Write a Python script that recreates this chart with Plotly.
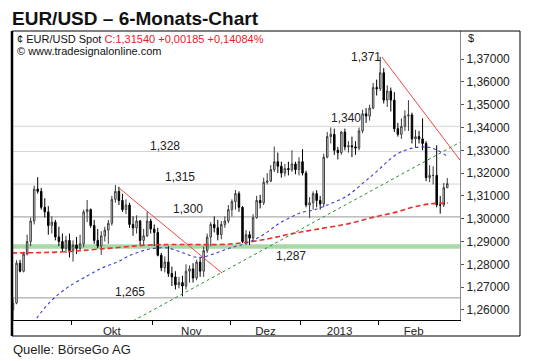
import pandas as pd
import plotly.graph_objects as go

# ---------------- data ----------------
dates = [d.strftime("%Y-%m-%d") for d in pd.bdate_range("2012-09-06", "2013-02-28")
         if d.strftime("%m-%d") not in ("12-25", "01-01")]

opens = [1.2600, 1.2630, 1.2805, 1.2770, 1.2845, 1.2900, 1.2990, 1.3130, 1.3120, 1.3050,
         1.3030, 1.2970, 1.2985, 1.2920, 1.2900, 1.2870, 1.2905,
         1.2860, 1.2885, 1.2870, 1.2890, 1.3030, 1.3040, 1.2970, 1.2905, 1.2880, 1.2925,
         1.2950, 1.2980, 1.3085, 1.3120, 1.3080, 1.3040, 1.3060, 1.2975, 1.2960, 1.2990,
         1.2905, 1.2925, 1.2990,
         1.2955, 1.2940, 1.2840, 1.2785, 1.2810, 1.2760, 1.2745, 1.2710, 1.2720, 1.2705,
         1.2770, 1.2780, 1.2740, 1.2810, 1.2770, 1.2860, 1.2920, 1.2975, 1.2960, 1.2930,
         1.2975, 1.2990,
         1.3040, 1.3075, 1.3110, 1.3050, 1.2900, 1.2930, 1.2915, 1.3005, 1.3080, 1.3070,
         1.3160, 1.3165, 1.3215, 1.3250, 1.3230, 1.3200, 1.3220, 1.3215, 1.3240, 1.3215,
         1.3250, 1.3200, 1.3060, 1.3070, 1.3110, 1.3080, 1.3065, 1.3270, 1.3360, 1.3370,
         1.3300, 1.3290, 1.3380, 1.3315, 1.3320, 1.3315, 1.3310, 1.3385, 1.3460, 1.3450,
         1.3485, 1.3575,
         1.3570, 1.3640, 1.3520, 1.3560, 1.3520, 1.3395, 1.3370, 1.3405, 1.3450, 1.3455,
         1.3350, 1.3360, 1.3350, 1.3330, 1.3180, 1.3190, 1.3190, 1.3060, 1.3060, 1.3136]
highs = [1.2650, 1.2818, 1.2820, 1.2855, 1.2930, 1.3005, 1.3145, 1.3182, 1.3135, 1.3090,
         1.3055, 1.3010, 1.2995, 1.2965, 1.2935, 1.2925, 1.2935,
         1.2905, 1.2920, 1.2930, 1.3040, 1.3082, 1.3045, 1.2995, 1.2955, 1.2945, 1.2965,
         1.2995, 1.3100, 1.3148, 1.3140, 1.3110, 1.3085, 1.3070, 1.3010, 1.3015, 1.2995,
         1.2955, 1.3030, 1.3000,
         1.2975, 1.2960, 1.2850, 1.2835, 1.2880, 1.2790, 1.2770, 1.2745, 1.2750, 1.2800,
         1.2795, 1.2805, 1.2820, 1.2830, 1.2878, 1.2935, 1.2985, 1.3010, 1.2995, 1.2990,
         1.3010, 1.3060,
         1.3085, 1.3126, 1.3120, 1.3055, 1.2950, 1.2945, 1.3020, 1.3100, 1.3105, 1.3180,
         1.3200, 1.3235, 1.3316, 1.3290, 1.3250, 1.3240, 1.3250, 1.3300, 1.3250, 1.3270,
         1.3305, 1.3210, 1.3095, 1.3120, 1.3125, 1.3100, 1.3285, 1.3380, 1.3400, 1.3395,
         1.3315, 1.3385, 1.3395, 1.3340, 1.3360, 1.3340, 1.3400, 1.3478, 1.3485, 1.3500,
         1.3595, 1.3610,
         1.3710, 1.3660, 1.3585, 1.3575, 1.3555, 1.3420, 1.3440, 1.3475, 1.3520, 1.3465,
         1.3390, 1.3385, 1.3440, 1.3340, 1.3235, 1.3230, 1.3322, 1.3100, 1.3157, 1.3178]
lows = [1.2552, 1.2625, 1.2765, 1.2765, 1.2840, 1.2880, 1.2975, 1.3110, 1.3040, 1.3005,
        1.2930, 1.2935, 1.2905, 1.2880, 1.2855, 1.2850, 1.2830,
        1.2812, 1.2845, 1.2860, 1.2875, 1.2985, 1.2960, 1.2890, 1.2870, 1.2842, 1.2900,
        1.2890, 1.2970, 1.3070, 1.3060, 1.3030, 1.3020, 1.2960, 1.2925, 1.2935, 1.2885,
        1.2885, 1.2920, 1.2935,
        1.2880, 1.2835, 1.2770, 1.2765, 1.2745, 1.2705, 1.2690, 1.2695, 1.2660, 1.2690,
        1.2720, 1.2720, 1.2730, 1.2745, 1.2745, 1.2850, 1.2880, 1.2940, 1.2905, 1.2910,
        1.2960, 1.2980,
        1.3010, 1.3040, 1.3030, 1.2893, 1.2885, 1.2885, 1.2905, 1.3000, 1.3045, 1.3060,
        1.3150, 1.3160, 1.3205, 1.3200, 1.3180, 1.3185, 1.3190, 1.3205, 1.3195, 1.3190,
        1.3190, 1.3050, 1.3003, 1.3040, 1.3050, 1.3040, 1.3050, 1.3265, 1.3330, 1.3280,
        1.3260, 1.3280, 1.3300, 1.3290, 1.3270, 1.3280, 1.3300, 1.3375, 1.3420, 1.3430,
        1.3480, 1.3540,
        1.3560, 1.3505, 1.3490, 1.3470, 1.3380, 1.3360, 1.3350, 1.3385, 1.3385, 1.3330,
        1.3310, 1.3330, 1.3300, 1.3165, 1.3160, 1.3150, 1.3050, 1.3022, 1.3051, 1.3135]
closes = [1.2630, 1.2805, 1.2770, 1.2845, 1.2900, 1.2990, 1.3130, 1.3120, 1.3050, 1.3030,
          1.2970, 1.2985, 1.2920, 1.2900, 1.2870, 1.2905, 1.2860,
          1.2885, 1.2870, 1.2890, 1.3030, 1.3040, 1.2970, 1.2905, 1.2880, 1.2925, 1.2950,
          1.2980, 1.3085, 1.3120, 1.3080, 1.3040, 1.3060, 1.2975, 1.2960, 1.2990, 1.2905,
          1.2925, 1.2990, 1.2955,
          1.2940, 1.2840, 1.2785, 1.2810, 1.2760, 1.2745, 1.2710, 1.2720, 1.2705, 1.2770,
          1.2780, 1.2740, 1.2810, 1.2770, 1.2860, 1.2920, 1.2975, 1.2960, 1.2930, 1.2975,
          1.2990, 1.3040,
          1.3075, 1.3110, 1.3050, 1.2900, 1.2930, 1.2915, 1.3005, 1.3080, 1.3070, 1.3160,
          1.3165, 1.3215, 1.3250, 1.3230, 1.3200, 1.3220, 1.3215, 1.3240, 1.3215, 1.3250,
          1.3200, 1.3060, 1.3070, 1.3110, 1.3080, 1.3065, 1.3270, 1.3360, 1.3370, 1.3300,
          1.3290, 1.3380, 1.3315, 1.3320, 1.3315, 1.3310, 1.3385, 1.3460, 1.3450, 1.3485,
          1.3575, 1.3570,
          1.3640, 1.3520, 1.3560, 1.3520, 1.3395, 1.3370, 1.3405, 1.3450, 1.3455, 1.3350,
          1.3360, 1.3350, 1.3330, 1.3180, 1.3190, 1.3190, 1.3060, 1.3060, 1.3136, 1.3154]

# moving averages (bar index, value)
ma_blue_idx = [5.7, 10.5, 15.3, 21.0, 24.6, 29.5, 34.0, 38.8, 43.6, 48.2, 51.6, 53.8, 56.7,
               61.5, 66.3, 70.8, 75.6, 81.3, 85.0, 89.0, 94.6, 99.2, 102.5, 108.8, 113.3,
               117.3, 120.1, 123.2]
ma_blue_val = [1.2543, 1.2635, 1.2697, 1.2749, 1.2780, 1.2810, 1.2845, 1.2867, 1.2872, 1.2850,
               1.2832, 1.2832, 1.2845, 1.2872, 1.2894, 1.2929, 1.2981, 1.3025, 1.3038, 1.3060,
               1.3100, 1.3157, 1.3200, 1.3284, 1.3310, 1.3314, 1.3301, 1.3271]
ma_red_idx = [-0.3, 13.3, 24.6, 38.8, 47.3, 61.5, 72.0, 78.5, 85.0, 94.6, 102.5, 108.8,
              113.3, 118.1, 123.2]
ma_red_val = [1.2850, 1.2854, 1.2867, 1.2885, 1.2887, 1.2889, 1.2911, 1.2933, 1.2951, 1.2977,
              1.3008, 1.3030, 1.3051, 1.3065, 1.3069]

# trend lines (start/end: bar index, price)
trend_down1_idx = [30.0, 59.2]
trend_down1_val = [1.3135, 1.2762]
trend_down2_idx = [104.5, 126.6]
trend_down2_val = [1.3709, 1.3257]
trend_up_idx = [34.0, 126.6]
trend_up_val = [1.2552, 1.3335]

# horizontal levels
levels_light = [1.3405, 1.3295, 1.3152]
levels_dark = [1.3008, 1.2653]
support_band = 1.2878

level_labels = ["1,328", "1,315", "1,300", "1,265", "1,287", "1,340", "1,371"]
level_label_idx = [43.1, 47.3, 49.6, 33.1, 78.8, 94.3, 100.0]
level_label_val = [1.3317, 1.3181, 1.3043, 1.2677, 1.2837, 1.3441, 1.3709]

y_ticks = [1.26, 1.27, 1.28, 1.29, 1.30, 1.31, 1.32, 1.33, 1.34, 1.35, 1.36, 1.37]
y_ticktext = ["1,26000", "1,27000", "1,28000", "1,29000", "1,30000", "1,31000",
              "1,32000", "1,33000", "1,34000", "1,35000", "1,36000", "1,37000"]
month_labels = ["Okt", "Nov", "Dez", "2013", "Feb"]

# --------------- derived month positions ---------------
x = list(range(len(dates)))
months = [d[:7] for d in dates]
starts = [i for i in range(1, len(dates)) if months[i] != months[i - 1]]
bounds = [s - 0.5 for s in starts] + [len(dates) - 0.5]
month_bounds = bounds[:-1]
month_mid = [(bounds[k] + bounds[k + 1]) / 2 for k in range(len(bounds) - 1)]

FONT = "Liberation Sans, Arial, sans-serif"

fig = go.Figure()
fig.add_trace(go.Candlestick(
    x=x, open=opens, high=highs, low=lows, close=closes,
    increasing=dict(line=dict(color="#3a3a3a", width=1), fillcolor="#ffffff"),
    decreasing=dict(line=dict(color="#000000", width=1), fillcolor="#000000"),
    whiskerwidth=0, showlegend=False, hoverinfo="skip"))

fig.add_trace(go.Scatter(x=ma_red_idx, y=ma_red_val, mode="lines",
                         line=dict(color="#e8302a", width=1.6, dash="5px,3px", shape="spline"),
                         showlegend=False, hoverinfo="skip"))
fig.add_trace(go.Scatter(x=ma_blue_idx, y=ma_blue_val, mode="lines",
                         line=dict(color="#3a3ad0", width=1.1, dash="dot", shape="spline"),
                         showlegend=False, hoverinfo="skip"))
for xs, ys, col, dash in [(trend_down1_idx, trend_down1_val, "#e84848", "solid"),
                          (trend_down2_idx, trend_down2_val, "#e84848", "solid"),
                          (trend_up_idx, trend_up_val, "#2e8b2e", "dot")]:
    fig.add_trace(go.Scatter(x=xs, y=ys, mode="lines", line=dict(color=col, width=1, dash=dash),
                             showlegend=False, hoverinfo="skip"))

for lv in levels_light:
    fig.add_hline(y=lv, line=dict(color="#d4d4d4", width=1), layer="below")
for lv in levels_dark:
    fig.add_hline(y=lv, line=dict(color="#9a9a9a", width=1), layer="below")
fig.add_hline(y=support_band, line=dict(color="#a9d8a9", width=4.5), layer="below")

for t, xi, yv in zip(level_labels, level_label_idx, level_label_val):
    fig.add_annotation(x=xi, y=yv, xref="x", yref="y", text=t, showarrow=False,
                       xanchor="center", yanchor="middle",
                       font=dict(family=FONT, size=12, color="#222"))

# frame
fig.add_shape(type="rect", xref="paper", yref="paper", x0=0, x1=1.1339, y0=-0.0554, y1=1.0,
              line=dict(color="#000", width=1), layer="above")
fig.add_shape(type="line", xref="paper", yref="paper", x0=0, x1=0, y0=-0.0554, y1=1.0,
              line=dict(color="#000", width=2.5), layer="above")

# texts
fig.add_annotation(xref="paper", yref="paper", x=-0.0045, y=1.0433, xanchor="left", yanchor="middle",
                   text="<b>EUR/USD – 6-Monats-Chart</b>", showarrow=False,
                   font=dict(family=FONT, size=19, color="#111"))
fig.add_annotation(xref="paper", yref="paper", x=-0.002, y=-0.102, xanchor="left", yanchor="middle",
                   text="Quelle: BörseGo AG", showarrow=False,
                   font=dict(family=FONT, size=13, color="#222"))
fig.add_annotation(xref="paper", yref="paper", x=0.0067, y=0.9734, xanchor="left", yanchor="middle",
                   text='¢ EUR/USD Spot <span style="color:#e8202a">C:1,31540 +0,00185 +0,14084%</span>',
                   showarrow=False, font=dict(family=FONT, size=11, color="#111"))
fig.add_annotation(xref="paper", yref="paper", x=0.0067, y=0.9308, xanchor="left", yanchor="middle",
                   text="© www.tradesignalonline.com", showarrow=False,
                   font=dict(family=FONT, size=11, color="#111"))
fig.add_annotation(xref="paper", yref="paper", x=1.0134, y=0.9758, xanchor="left", yanchor="middle",
                   text="$", showarrow=False, font=dict(family=FONT, size=11, color="#111"))

fig.update_layout(
    width=540, height=361, margin=dict(l=12, r=80, t=31, b=41),
    paper_bgcolor="white", plot_bgcolor="white", showlegend=False,
    boxgap=0.4,
    xaxis=dict(range=[-0.28, 126.6], showgrid=False, zeroline=False, showline=True,
               linecolor="#000", linewidth=1, tickvals=month_mid, ticktext=month_labels,
               ticks="", tickfont=dict(family=FONT, size=11.5, color="#222"),
               minor=dict(tickvals=month_bounds, ticks="outside", ticklen=4,
                          tickcolor="#000", tickwidth=1),
               rangeslider=dict(visible=False), fixedrange=True),
    yaxis=dict(range=[1.2556, 1.3823], side="right", showgrid=False, zeroline=False,
               showline=True, linecolor="#888", linewidth=1, tickvals=y_ticks,
               ticktext=y_ticktext, ticks="outside", ticklen=3, tickcolor="#555",
               tickfont=dict(family=FONT, size=12, color="#222"), fixedrange=True),
)

fig.write_html("out.html", config={"displayModeBar": False},
               post_script="document.body.style.margin='0';document.body.style.overflow='hidden';")
